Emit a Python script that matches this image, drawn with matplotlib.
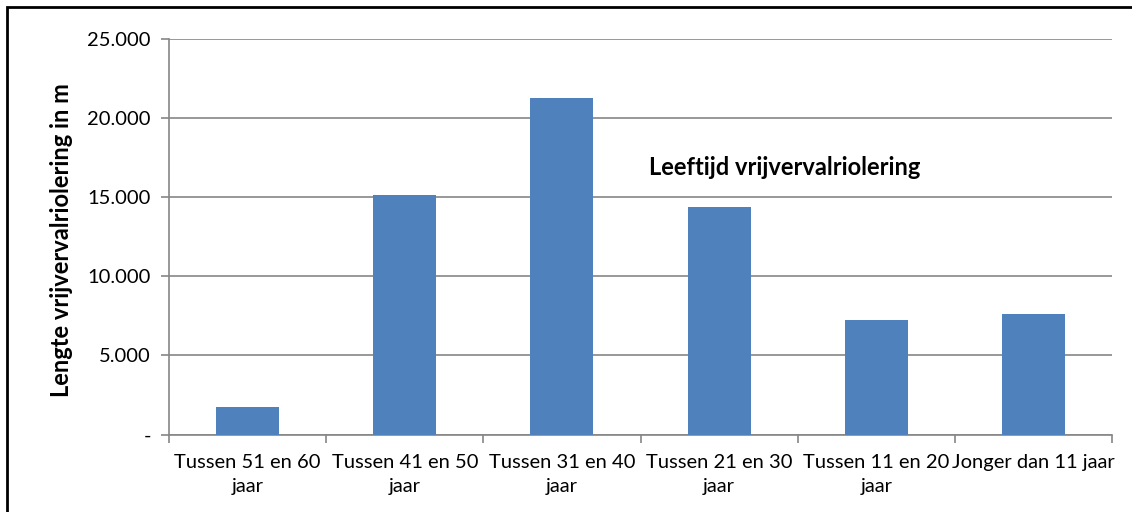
import matplotlib.pyplot as plt
from matplotlib.patches import Rectangle
from matplotlib.ticker import FuncFormatter

# Gegevens
categorieen = ['Tussen 51 en 60\njaar', 'Tussen 41 en 50\njaar', 'Tussen 31 en 40\njaar',
               'Tussen 21 en 30\njaar', 'Tussen 11 en 20\njaar', 'Jonger dan 11 jaar']
lengtes = [1730, 15150, 21260, 14400, 7250, 7600]
y_ticks = [0, 5000, 10000, 15000, 20000, 25000]

plt.rcParams['font.family'] = ['Lato', 'DejaVu Sans']
grijs = '#868686'
blauw = '#4F81BD'

fig = plt.figure(figsize=(11.32, 5.12), dpi=100)
ax = fig.add_axes([169 / 1132, 1 - 434.5 / 512, (1112 - 169) / 1132, (434.5 - 39) / 512])

x = list(range(len(categorieen)))
ax.bar(x, lengtes, width=0.4, color=blauw, zorder=3)

ax.set_xlim(-0.5, len(categorieen) - 0.5)
ax.set_ylim(0, 25000)
ax.set_yticks(y_ticks)
ax.yaxis.set_major_formatter(FuncFormatter(lambda v, p: '-' if v == 0 else f'{int(v):,}'.replace(',', '.')))
ax.grid(axis='y', color=grijs, linewidth=1.2, zorder=0)

# grenzen tussen categorieen als tick, labels in het midden
ax.set_xticks([i + 0.5 for i in range(-1, len(categorieen))], minor=False)
ax.set_xticklabels([])
ax.set_xticks(x, minor=True)
ax.set_xticklabels(categorieen, minor=True, fontsize=14.5, linespacing=1.5)
ax.tick_params(axis='x', which='minor', length=0, pad=14)
ax.tick_params(axis='x', which='major', length=6, color=grijs, width=1.2)
ax.tick_params(axis='y', length=6, color=grijs, width=1.2, labelsize=14.5, pad=7)

for s in ['top', 'right']:
    ax.spines[s].set_visible(False)
for s in ['left', 'bottom']:
    ax.spines[s].set_color(grijs)
    ax.spines[s].set_linewidth(1.2)

fig.text(62 / 1132, 1 - 240 / 512, 'Lengte vrijvervalriolering in m', rotation=90,
         fontsize=17, fontweight='bold', ha='center', va='center')
ax.text(0.653, 0.676, 'Leeftijd vrijvervalriolering', transform=ax.transAxes,
        fontsize=17, fontweight='bold', ha='center', va='center')

# rand om de figuur
fig.patches.append(Rectangle((7 / 1132, -0.1), 1.2, 1 - 7 / 512 + 0.1, transform=fig.transFigure,
                             fill=False, edgecolor='black', linewidth=2))

fig.savefig('out.png', dpi=100)
